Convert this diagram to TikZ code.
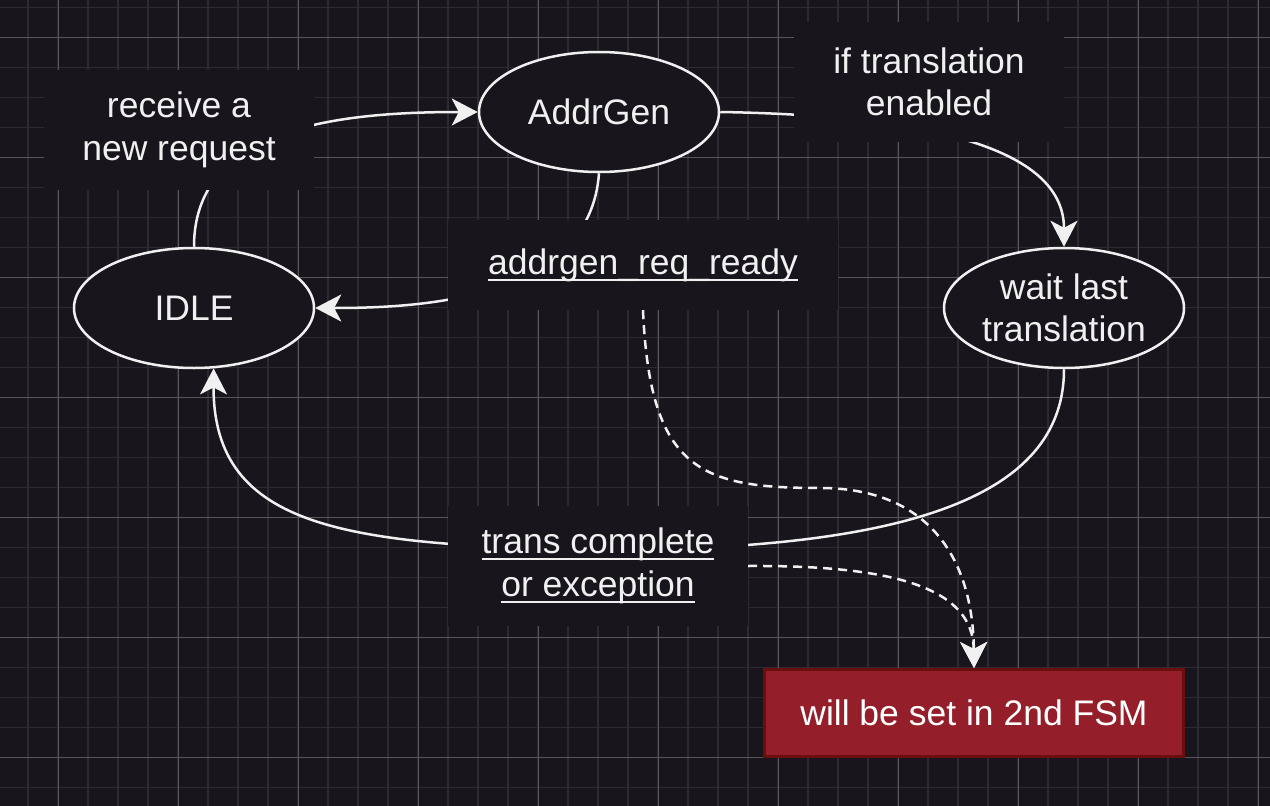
\documentclass[tikz,border=0pt]{standalone}
\usepackage{fontspec}
\setmainfont{Liberation Sans}
\usetikzlibrary{shapes.geometric,arrows.meta}
\definecolor{canvas}{HTML}{18161C}
\definecolor{minorline}{HTML}{2D2B31}
\definecolor{majorline}{HTML}{57565B}
\definecolor{ink}{HTML}{F0F0F0}
\definecolor{fsmfill}{HTML}{941E29}
\definecolor{fsmline}{HTML}{6A0E0E}
\newcommand{\ulabel}[1]{\leavevmode\setbox0\hbox{#1}\rlap{\rule[-6.5pt]{\wd0}{2pt}}\box0}
\pgfdeclarelayer{grid}
\pgfdeclarelayer{wires}
\pgfsetlayers{grid,wires,main}
\tikzset{
  state/.style={ellipse,draw=ink,line width=2.5pt,fill=canvas,text=ink,
    minimum width=240pt,minimum height=120pt,inner sep=0pt,align=center},
  tag/.style={fill=canvas,text=ink,inner sep=0pt,align=center},
  fsmbox/.style={rectangle,draw=fsmline,line width=3pt,fill=fsmfill,text=white,
    minimum width=419pt,minimum height=87pt,inner sep=0pt},
  wire/.style={draw=ink,line width=2.5pt,-{Stealth[length=26pt,width=27pt,inset=7pt]}},
  hint/.style={dash pattern=on 9pt off 6pt}
}
\begin{document}
\begin{tikzpicture}[x=1pt,y=-1pt,font=\fontsize{35.5}{42.5}\selectfont]
  \useasboundingbox (0,0) rectangle (1270,806);
  % background grid
  \begin{pgfonlayer}{grid}
    \fill[canvas] (0,0) rectangle (1270,806);
    \foreach \k in {0,...,41} \draw[minorline,line width=1.2pt] (28+30*\k,0) -- (28+30*\k,806);
    \foreach \k in {0,...,26} \draw[minorline,line width=1.2pt] (0,7.7+30*\k) -- (1270,7.7+30*\k);
    \foreach \k in {0,...,10} \draw[majorline,line width=1pt] (58+120*\k,0) -- (58+120*\k,806);
    \foreach \k in {0,...,6} \draw[majorline,line width=1pt] (0,37.7+120*\k) -- (1270,37.7+120*\k);
  \end{pgfonlayer}
  % states
  \node[state] (idle) at (194,308) {IDLE};
  \node[state] (addrgen) at (599,112) {AddrGen};
  \node[state] (wait) at (1064,308) {wait last\\translation};
  \node[fsmbox] (fsm) at (974,713) {will be set in 2nd FSM};
  % edge labels
  \node[tag,minimum width=270pt,minimum height=120pt] (lreq) at (179,130) {receive a\\new request};
  \node[tag,minimum width=270pt,minimum height=120pt] (lenable) at (929,82) {if translation\\enabled};
  \node[tag,minimum width=390pt,minimum height=90pt] (lready) at (643,265) {\ulabel{addrgen\_req\_ready}};
  \node[tag,minimum width=300pt,minimum height=120pt] (ldone) at (598,566) {\ulabel{trans complete}\\\ulabel{or exception}};
  \coordinate (dip) at (820,488);
  % transitions
  \begin{pgfonlayer}{wires}
    \draw[wire] (idle.north) .. controls (194,130) and (330,112) .. (addrgen.west);
    \draw[wire] (addrgen.east) .. controls (900,115) and (1064,140) .. (wait.north);
    \draw[wire] (addrgen.south) .. controls (590,300) and (420,308) .. (idle.east);
    \draw[wire] (wait.south) .. controls (1064,500) and (900,550) .. ([yshift=16pt]ldone.center)
      .. controls (350,545) and (213,530) .. (idle.-72);
    \draw[wire,hint] (lready.south) .. controls (650,470) and (700,488) .. (dip)
      .. controls (930,488) and (973,560) .. (fsm.north);
    \draw[wire,hint] (ldone.east) .. controls (900,565) and (973,590) .. (fsm.north);
  \end{pgfonlayer}
\end{tikzpicture}
\end{document}
